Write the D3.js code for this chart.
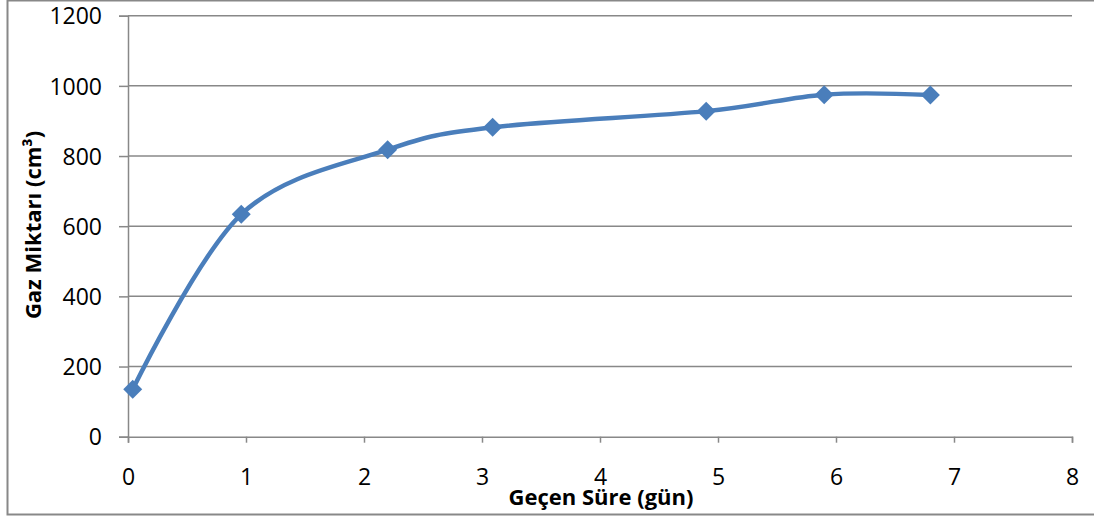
<!DOCTYPE html>
<html><head><meta charset="utf-8">
<script src="https://cdn.jsdelivr.net/npm/d3@7"></script>
<style>body{margin:0;background:#fff}svg{display:block}</style>
</head><body>
<svg id="c" width="1094" height="517"></svg>
<script>
const days = [0.04, 0.96, 2.2, 3.09, 4.9, 5.9, 6.8];
const gas = [135, 634, 818, 882, 928, 975, 974];
const xTicks = [0, 1, 2, 3, 4, 5, 6, 7, 8];
const yTicks = [0, 200, 400, 600, 800, 1000, 1200];
const xTitle = "Geçen Süre (gün)";
const yTitle = "Gaz Miktarı (cm³)";

const svg = d3.select("#c");
const x = d3.scaleLinear().domain([0, 8]).range([128, 1072]);
const y = d3.scaleLinear().domain([0, 1200]).range([436.7, 15.7]);
const grid = "#888888";
const font = "'Open Sans', 'Liberation Sans', sans-serif";

// outer border
svg.append("rect").attr("x", 7.5).attr("y", 0.5).attr("width", 1100).attr("height", 514)
  .attr("fill", "none").attr("stroke", grid).attr("stroke-width", 2);

// gridlines
svg.append("g").selectAll("line").data(yTicks.filter(d => d > 0)).join("line")
  .attr("x1", x(0)).attr("x2", x(8)).attr("y1", d => y(d)).attr("y2", d => y(d))
  .attr("stroke", grid).attr("stroke-width", 1.5);

// y axis
const yAxis = svg.append("g").attr("transform", `translate(${x(0)},0)`)
  .call(d3.axisLeft(y).tickValues(yTicks).tickSize(9).tickPadding(17).tickFormat(d3.format("d")));
// x axis
const xAxis = svg.append("g").attr("transform", `translate(0,${y(0)})`)
  .call(d3.axisBottom(x).tickValues(xTicks).tickSize(6).tickPadding(26).tickFormat(d3.format("d")));
[yAxis, xAxis].forEach(a => {
  a.select(".domain").attr("stroke", grid).attr("stroke-width", 1.5);
  a.selectAll(".tick line").attr("stroke", grid).attr("stroke-width", 1.5);
  a.selectAll("text").attr("fill", "#000").style("font-family", font).style("font-size", "23px");
});
yAxis.selectAll("text").attr("dy", "0.36em");

// line
const line = d3.line().x((d, i) => x(days[i])).y(d => y(d)).curve(d3.curveCardinal.tension(0));
svg.append("path").datum(gas).attr("d", line)
  .attr("fill", "none").attr("stroke", "#4a7ebb").attr("stroke-width", 4.5).attr("stroke-linejoin", "round");

// markers
svg.append("g").selectAll("path").data(gas).join("path")
  .attr("transform", (d, i) => `translate(${x(days[i])},${y(d)})`)
  .attr("d", "M0,-9.5L9.5,0L0,9.5L-9.5,0Z").attr("fill", "#4a7ebb");

// titles
svg.append("text").attr("x", 601).attr("y", 505).attr("text-anchor", "middle")
  .style("font-family", font).style("font-weight", "bold").style("font-size", "22px").text(xTitle);
svg.append("text").attr("transform", "translate(41,225) rotate(-90)").attr("text-anchor", "middle")
  .style("font-family", font).style("font-weight", "bold").style("font-size", "22px").text(yTitle);
</script>
</body></html>
